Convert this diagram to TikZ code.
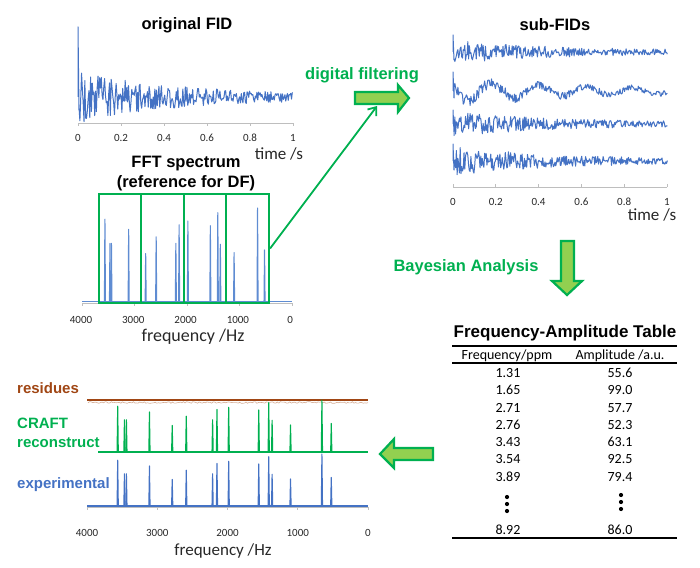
\documentclass[tikz,border=0pt]{standalone}
\usepackage{fontspec}
\setmainfont{Liberation Sans}
\newfontfamily\calib{Carlito}
\usetikzlibrary{arrows.meta}
\definecolor{xblue}{RGB}{68,114,196}
\definecolor{sblue}{RGB}{95,140,210}
\definecolor{cgreen}{RGB}{0,176,80}
\definecolor{lgreen}{RGB}{146,208,80}
\definecolor{rbrown}{RGB}{160,70,20}
\definecolor{axgray}{RGB}{190,190,190}
\definecolor{txtc}{RGB}{40,40,40}
\begin{document}
\begin{tikzpicture}[x=1pt,y=-1pt,
  ttl/.style={font=\bfseries\fontsize{16.5}{19}\selectfont, inner sep=0},
  lbl/.style={font=\bfseries\fontsize{15}{17}\selectfont, inner sep=0, anchor=west},
  axt/.style={font=\calib\fontsize{17}{19}\selectfont, inner sep=0, text=txtc},
  tickl/.style={font=\calib\fontsize{11}{12}\selectfont, text=txtc, inner sep=0},
  tab/.style={font=\calib\fontsize{14}{15}\selectfont, inner sep=0},
  fid/.style={xblue, line width=1pt, line join=round},
  axis/.style={axgray, line width=0.8pt},
  blockarrow/.style={draw=cgreen, fill=lgreen, line width=2.2pt, line join=miter},
  specbox/.style={draw=cgreen, line width=2.2pt, inner sep=0, minimum height=109pt},
  pkline/.style={line width=1.1pt, line join=round},
  rule/.style={line width=1.8pt, black}
]
\useasboundingbox (0,0) rectangle (700,567);
\pgfmathsetseed{12}

% ---------- original FID ----------
\node[ttl] (otitle) at (187,25) {original FID};
\draw[axis] (78,123) -- (293,123);
\foreach \i/\t in {0/0,1/0.2,2/0.4,3/0.6,4/0.8,5/1}{
  \draw[axis] ({78+43*\i},123) -- ({78+43*\i},126);
  \node[tickl] (ot\i) at ({78+43*\i},138) {\t};
}
\draw[fid] (78,97) -- (78,27) -- (79,110)
  -- plot[domain=0.005:1, samples=260] ({78+215*\x},{97+(24*exp(-2.3*\x)+2.5)*rand});
\node[axt] (otime) at (279,154) {time /s};

% ---------- FFT spectrum ----------
\node[ttl, align=center] (ftitle) at (186,174) {FFT spectrum\\[1pt](reference for DF)};
\draw[axis] (82,303) -- (292,303);
\foreach \i/\t in {0/4000,1/3000,2/2000,3/1000,4/0}{
  \draw[axis] ({82+52.5*\i},303) -- ({82+52.5*\i},306);
  \node[tickl] (ft\i) at ({81+52.3*\i},320) {\t};
}
\draw[sblue, line width=1pt] (82,301) -- (292,301);
\foreach \f/\r in {3563/.88,3467/.62,3439/.62,3111/.77,2787/.51,2587/.69,2212/.62,2150/.82,1983/.86,1555/.81,1413/.95,1365/.61,1103/.52,656/1.0,523/.55}{
  \draw[pkline, sblue] ({292-\f*0.0525-0.5},301) -- ({292-\f*0.0525},{301-93*\r}) -- ({292-\f*0.0525+0.5},301);
}
\node[specbox, minimum width=42pt] (b1) at (120,248.5) {};
\node[specbox, minimum width=43pt] (b2) at (162.5,248.5) {};
\node[specbox, minimum width=42pt] (b3) at (205,248.5) {};
\node[specbox, minimum width=43pt] (b4) at (247.5,248.5) {};
\node[axt, font=\calib\fontsize{18}{20}\selectfont] (ffreq) at (193,337) {frequency /Hz};

% ---------- digital filtering arrow ----------
\node[ttl, text=cgreen] (dflabel) at (362,75) {digital filtering};
\draw[blockarrow] (355,92) -- (398,92) -- (398,85) -- (409,98) -- (398,112) -- (398,104) -- (355,104) -- cycle;
\coordinate (dfin) at (377,106);
\draw[cgreen, line width=1.8pt, -{Straight Barb[length=7pt,width=11pt]}] (b4.east) -- (dfin);

% ---------- sub-FIDs ----------
\node[ttl] (stitle) at (555,25) {sub-FIDs};
\draw[fid] (453,52) -- (453,35) -- (454,60)
  -- plot[domain=0.005:1, samples=280] ({453+215*\x},{52+(10*exp(-2.2*\x)+1.8)*rand});
\draw[fid] (453,91) -- (453,72) -- (454,98)
  -- plot[domain=0.005:1, samples=280] ({453+215*\x},{91+10*exp(-1.3*\x)*cos(360*(\x-0.07)/0.22)+(5*exp(-1.5*\x)+1.5)*rand});
\draw[fid] (453,124) -- (453,110) -- (454,132)
  -- plot[domain=0.005:1, samples=280] ({453+215*\x},{124+(11*exp(-2.2*\x)+1.8)*rand});
\draw[fid] (453,161) -- (453,144) -- (454,170)
  -- plot[domain=0.005:1, samples=280] ({453+215*\x},{161+(13*exp(-2.2*\x)+1.8)*rand});
\draw[axis] (453,187) -- (667,187);
\foreach \i/\t in {0/0,1/0.2,2/0.4,3/0.6,4/0.8,5/1}{
  \draw[axis] ({453+42.8*\i},187) -- ({453+42.8*\i},184);
  \node[tickl] (st\i) at ({453+42.8*\i},202) {\t};
}
\node[axt] (stime) at (652,215) {time /s};

% ---------- Bayesian analysis arrow ----------
\node[ttl, text=cgreen] (balabel) at (466,267) {Bayesian Analysis};
\draw[blockarrow] (561,241) -- (574,241) -- (574,281) -- (582,281) -- (567,295) -- (552,281) -- (561,281) -- cycle;

% ---------- table ----------
\node[ttl, font=\bfseries\fontsize{17}{19}\selectfont] (ttitle) at (565,333) {Frequency-Amplitude Table};
\draw[rule] (452,346) -- (677,346);
\node[tab] (h1) at (507,356) {Frequency/ppm};
\node[tab] (h2) at (620,356) {Amplitude /a.u.};
\draw[line width=1.5pt] (452,363) -- (677,363);
\foreach \a/\b [count=\k from 0] in {1.31/55.6,1.65/99.0,2.71/57.7,2.76/52.3,3.43/63.1,3.54/92.5,3.89/79.4}{
  \node[tab] (fa\k) at (508,{373+17.3*\k}) {\a};
  \node[tab] (am\k) at (620,{373+17.3*\k}) {\b};
}
\foreach \yy in {497,504,511}{ \fill (507,\yy) circle (2.1); }
\foreach \yy in {495,502,509}{ \fill (621,\yy) circle (2.1); }
\node[tab] (falast) at (508,530) {8.92};
\node[tab] (amlast) at (620,530) {86.0};
\draw[rule] (452,538) -- (677,538);

% ---------- left arrow ----------
\draw[blockarrow] (433,448) -- (394,448) -- (394,439) -- (380,454) -- (394,468) -- (394,460) -- (433,460) -- cycle;

% ---------- bottom spectra ----------
\node[lbl, text=rbrown] (lres) at (17,388) {residues};
\node[lbl, text=cgreen] (lcraft) at (17,423) {CRAFT};
\node[lbl, text=cgreen] (lrec) at (17,443) {reconstruct};
\node[lbl, text=xblue] (lexp) at (17,485) {experimental};

\draw[rbrown!45, line width=0.6pt] plot[domain=88:368, samples=180] (\x,{402.5+0.8*rand});
\draw[rbrown, line width=1.4pt] (87,400) -- (368,400);

\draw[axis] (87,507) -- (368,507);
\foreach \i/\t in {0/4000,1/3000,2/2000,3/1000,4/0}{
  \draw[axis] ({87+70.25*\i},507) -- ({87+70.25*\i},510);
  \node[tickl] (bt\i) at ({87+70.25*\i},533) {\t};
}
\draw[cgreen, line width=1.2pt] (98,452) -- (368,452);
\draw[xblue, line width=1.2pt] (87,506) -- (368,506);
\foreach \f/\r in {3563/.88,3467/.62,3439/.62,3111/.77,2787/.51,2587/.69,2212/.62,2150/.82,1983/.86,1555/.81,1413/.95,1365/.61,1103/.52,656/1.0,523/.55}{
  \draw[pkline, cgreen] ({368-\f*0.07025-0.6},452) -- ({368-\f*0.07025},{452-52*\r}) -- ({368-\f*0.07025+0.6},452);
  \draw[pkline, xblue] ({368-\f*0.07025-0.6},506) -- ({368-\f*0.07025},{506-52*\r}) -- ({368-\f*0.07025+0.6},506);
}
\node[axt] (bfreq) at (223,551) {frequency /Hz};
\end{tikzpicture}
\end{document}
